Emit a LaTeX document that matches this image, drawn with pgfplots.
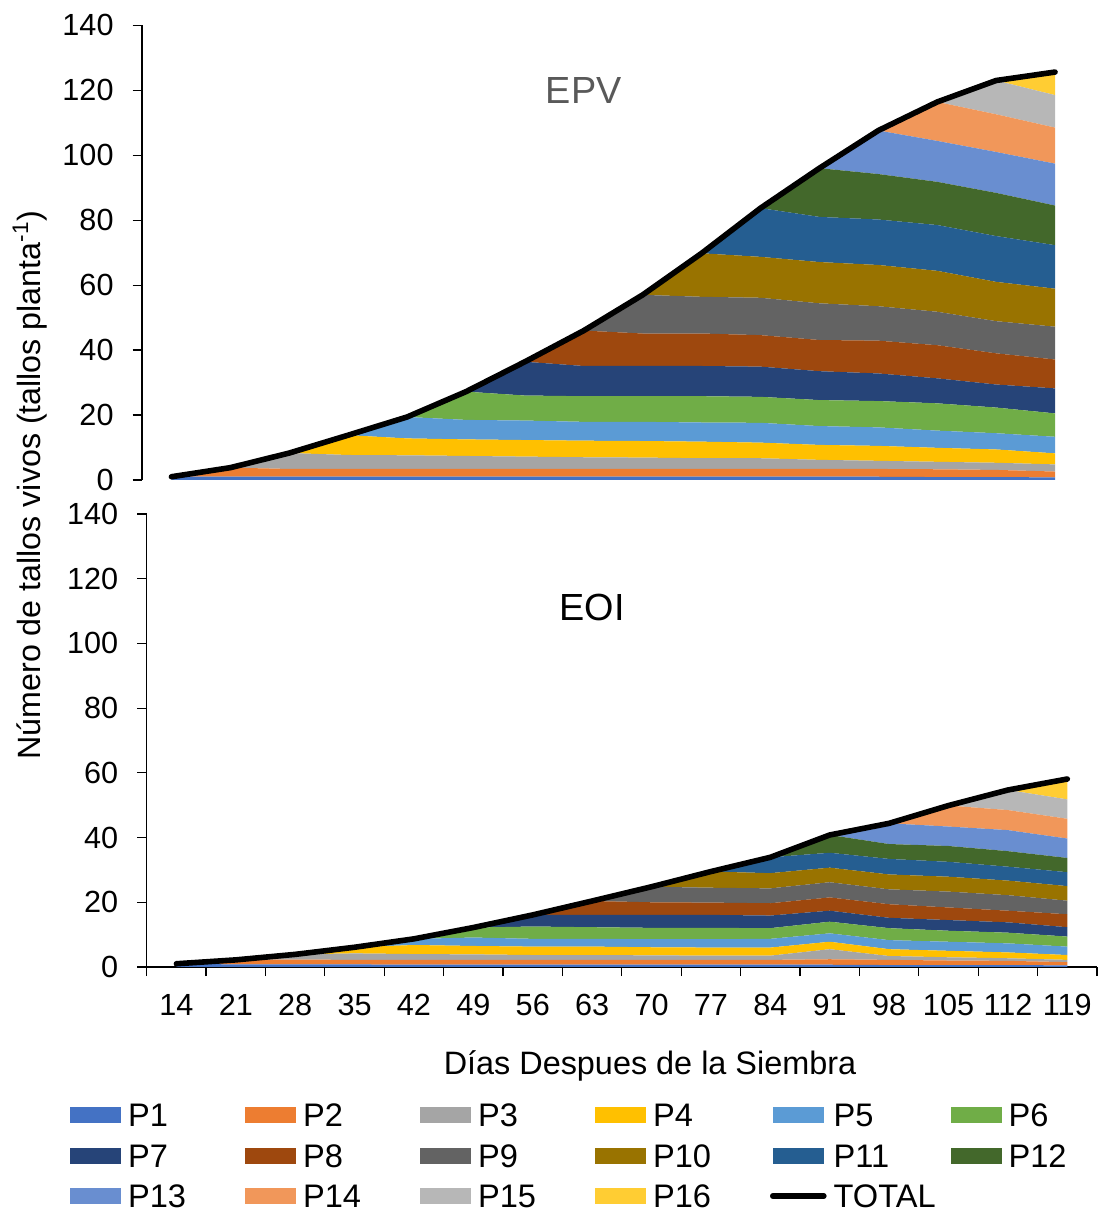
\documentclass[border=0pt]{standalone}
\usepackage{fontspec}
\setmainfont{Liberation Sans}
\usepackage{pgfplots}
\usepackage{pgfplotstable}
\pgfplotsset{compat=1.18}

\definecolor{c1}{HTML}{4472C4}
\definecolor{c2}{HTML}{ED7D31}
\definecolor{c3}{HTML}{A5A5A5}
\definecolor{c4}{HTML}{FFC000}
\definecolor{c5}{HTML}{5B9BD5}
\definecolor{c6}{HTML}{70AD47}
\definecolor{c7}{HTML}{264478}
\definecolor{c8}{HTML}{9E480E}
\definecolor{c9}{HTML}{636363}
\definecolor{c10}{HTML}{997300}
\definecolor{c11}{HTML}{255E91}
\definecolor{c12}{HTML}{43682B}
\definecolor{c13}{HTML}{698ED0}
\definecolor{c14}{HTML}{F1975A}
\definecolor{c15}{HTML}{B7B7B7}
\definecolor{c16}{HTML}{FFCD33}
\definecolor{epvgray}{HTML}{595959}

% EPV
\pgfplotstableread{
x P1 P2 P3 P4 P5 P6 P7 P8 P9 P10 P11 P12 P13 P14 P15 P16 TOTAL
0  1   0   0   0   0   0   0    0    0    0    0    0    0    0    0    0   1
1  1   2.8 0   0   0   0   0    0    0    0    0    0    0    0    0    0   3.8
2  1   2.4 4.9 0   0   0   0    0    0    0    0    0    0    0    0    0   8.3
3  1   2.4 4.3 6.1 0   0   0    0    0    0    0    0    0    0    0    0   13.8
4  1   2.4 4.2 5.2 6.6 0   0    0    0    0    0    0    0    0    0    0   19.4
5  1   2.4 4.0 5.1 6.0 8.7 0    0    0    0    0    0    0    0    0    0   27.2
6  1   2.4 3.8 5.1 6.0 7.7 10.4 0    0    0    0    0    0    0    0    0   36.4
7  1   2.4 3.6 5.1 5.8 7.9 9.3  10.9 0    0    0    0    0    0    0    0   46.0
8  1   2.4 3.5 5.1 5.9 7.9 9.3  10.0 11.9 0    0    0    0    0    0    0   57.0
9  1   2.4 3.3 5.1 5.9 8.1 9.3  10.0 11.3 13.4 0    0    0    0    0    0   69.8
10 1   2.4 3.3 4.8 6.1 8.0 9.3  9.7  11.5 12.6 15.0 0    0    0    0    0   83.7
11 1   2.4 2.8 4.6 5.8 8.0 8.9  9.6  11.3 12.7 13.9 15.0 0    0    0    0   96.0
12 1   2.4 2.5 4.6 5.7 8.1 8.5  10.1 10.6 12.7 14.0 14.0 13.4 0    0    0   107.6
13 0.9 2.4 2.3 4.3 5.3 8.4 7.7  10.2 10.3 12.6 14.1 13.3 12.6 12.0 0    0   116.4
14 0.9 2.2 2.2 4.1 5.0 7.9 7.1  9.6  9.9  12.1 14.1 13.3 12.6 11.6 10.4 0   123.0
15 0.8 1.8 2.2 3.4 5.1 7.2 7.7  8.9  10.1 11.7 13.4 12.2 12.9 11.1 10.0 7.1 125.6
}\topdata

% EOI
\pgfplotstableread{
x P1 P2 P3 P4 P5 P6 P7 P8 P9 P10 P11 P12 P13 P14 P15 P16 TOTAL
0  1   0   0   0   0   0   0   0   0   0   0   0   0   0   0   0   1
1  0.8 1.4 0   0   0   0   0   0   0   0   0   0   0   0   0   0   2.2
2  0.8 1.5 1.6 0   0   0   0   0   0   0   0   0   0   0   0   0   3.9
3  0.8 1.4 2.0 1.9 0   0   0   0   0   0   0   0   0   0   0   0   6.1
4  0.7 1.5 1.8 2.8 1.9 0   0   0   0   0   0   0   0   0   0   0   8.7
5  0.7 1.5 1.7 2.6 2.6 3.1 0   0   0   0   0   0   0   0   0   0   12.2
6  0.7 1.5 1.5 2.6 2.4 3.8 3.6 0   0   0   0   0   0   0   0   0   16.1
7  0.7 1.5 1.5 2.6 2.4 3.6 3.8 4.3 0   0   0   0   0   0   0   0   20.4
8  0.7 1.5 1.4 2.5 2.5 3.5 4.0 3.9 4.8 0   0   0   0   0   0   0   24.8
9  0.7 1.5 1.3 2.5 2.6 3.5 4.0 3.8 4.6 5.0 0   0   0   0   0   0   29.5
10 0.7 1.5 1.3 2.5 2.7 3.3 3.9 3.8 4.6 4.7 4.9 0   0   0   0   0   33.9
11 0.7 1.7 3.1 2.3 2.6 3.6 3.4 4.1 4.7 4.5 4.6 5.5 0   0   0   0   40.8
12 0.6 1.6 1.2 2.1 2.8 3.7 3.2 4.2 4.6 4.6 4.8 4.6 6.4 0   0   0   44.4
13 0.6 1.4 1.0 2.0 2.8 3.4 3.3 3.9 4.9 4.6 4.6 4.9 6.0 6.5 0   0   49.9
14 0.6 1.3 0.8 1.8 2.8 3.3 3.2 3.6 4.8 4.5 4.3 4.8 6.5 6.2 6.2 0   54.7
15 0.5 1.0 0.7 1.5 2.6 3.1 2.9 4.0 4.2 4.5 4.3 4.4 6.0 6.1 6.0 6.3 58.1
}\botdata

\pgfplotsset{
  arealeg/.style={fill=#1, draw=none, mark=none,
    legend image code/.code={\fill[##1] (0pt,-4pt) rectangle (25.5pt,4pt);}},
  totalline/.style={draw=black, line width=2.8pt, line cap=round, line join=round, mark=none,
    legend image code/.code={\draw[##1] (0pt,0pt) -- (25.5pt,0pt);}},
  common/.style={
    scale only axis, anchor=south west,
    xmin=-0.5, xmax=15.5, ymin=0, ymax=140,
    ytick={0,20,...,140},
    clip=false,
    tick align=outside, major tick length=4.7pt,
    every tick/.style={black, line width=0.6pt},
    axis line style={black, line width=0.6pt},
    /pgf/number format/assume math mode=true,
    yticklabel style={anchor=east, xshift=-6pt},
  },
  overlay/.style={
    scale only axis, anchor=south west,
    xmin=-0.5, xmax=15.5, ymin=0, ymax=140,
    clip=false, hide axis,
  },
}

\newcommand{\stackall}[1]{%
  \addplot[arealeg=c1]  table[x=x,y=P1]{#1} \closedcycle;
  \addplot[arealeg=c2]  table[x=x,y=P2]{#1} \closedcycle;
  \addplot[arealeg=c3]  table[x=x,y=P3]{#1} \closedcycle;
  \addplot[arealeg=c4]  table[x=x,y=P4]{#1} \closedcycle;
  \addplot[arealeg=c5]  table[x=x,y=P5]{#1} \closedcycle;
  \addplot[arealeg=c6]  table[x=x,y=P6]{#1} \closedcycle;
  \addplot[arealeg=c7]  table[x=x,y=P7]{#1} \closedcycle;
  \addplot[arealeg=c8]  table[x=x,y=P8]{#1} \closedcycle;
  \addplot[arealeg=c9]  table[x=x,y=P9]{#1} \closedcycle;
  \addplot[arealeg=c10] table[x=x,y=P10]{#1} \closedcycle;
  \addplot[arealeg=c11] table[x=x,y=P11]{#1} \closedcycle;
  \addplot[arealeg=c12] table[x=x,y=P12]{#1} \closedcycle;
  \addplot[arealeg=c13] table[x=x,y=P13]{#1} \closedcycle;
  \addplot[arealeg=c14] table[x=x,y=P14]{#1} \closedcycle;
  \addplot[arealeg=c15] table[x=x,y=P15]{#1} \closedcycle;
  \addplot[arealeg=c16] table[x=x,y=P16]{#1} \closedcycle;
}

\begin{document}
\begin{tikzpicture}[font=\fontsize{15.3}{18}\selectfont]
\useasboundingbox (0,0) rectangle (549pt,608pt);

% EPV areas
\begin{axis}[common, stack plots=y,
  at={(71pt,368pt)}, width=471.25pt, height=227.35pt,
  axis x line=none, axis y line*=left]
  \stackall{\topdata}
  \node[text=epvgray, font=\fontsize{18.9}{22}\selectfont] at (axis cs:7,120) {EPV};
\end{axis}
% EPV total
\begin{axis}[overlay,
  at={(71pt,368pt)}, width=471.25pt, height=227.35pt]
  \addplot[totalline] table[x=x,y=TOTAL]{\topdata};
\end{axis}

% EOI areas
\begin{axis}[common, stack plots=y,
  at={(73.35pt,124.5pt)}, width=475.15pt, height=226.5pt,
  axis lines*=left,
  xtick={0,...,15},
  xticklabels={14,21,28,35,42,49,56,63,70,77,84,91,98,105,112,119},
  xticklabel style={yshift=-5.5pt},
  minor xtick={-0.5,0.5,...,15.5},
  major x tick style={draw=none},
  minor tick length=4.5pt,
  xlabel={Días Despues de la Siembra},
  xlabel style={at={(axis description cs:0.5296,-0.2185)}, anchor=center, font=\fontsize{16.2}{19}\selectfont},
  legend columns=6,
  legend cell align=left,
  legend style={at={(axis description cs:-0.0807,-0.3009)}, anchor=north west,
    draw=none, fill=none, inner sep=0pt, outer sep=0pt, row sep=8.55pt,
    font=\fontsize{16.3}{19}\selectfont,
    nodes={inner sep=0pt, text height=11.7pt, text depth=0pt, text width=58.5pt, anchor=west},
    /tikz/every odd column/.append style={column sep=3.5pt},
    /tikz/every even column/.append style={column sep=0pt}},
  ]
  \stackall{\botdata}
  \addlegendimage{totalline}
  \node[font=\fontsize{18.9}{22}\selectfont] at (axis cs:7,111) {EOI};
  \legend{P1,P2,P3,P4,P5,P6,P7,P8,P9,P10,P11,P12,P13,P14,P15,P16,TOTAL}
\end{axis}
% EOI total
\begin{axis}[overlay,
  at={(73.35pt,124.5pt)}, width=475.15pt, height=226.5pt]
  \addplot[totalline] table[x=x,y=TOTAL]{\botdata};
\end{axis}

\node[rotate=90, font=\fontsize{16.1}{19}\selectfont] at (15pt,365.5pt) {Número de tallos vivos (tallos planta\textsuperscript{-1})};
\end{tikzpicture}
\end{document}
